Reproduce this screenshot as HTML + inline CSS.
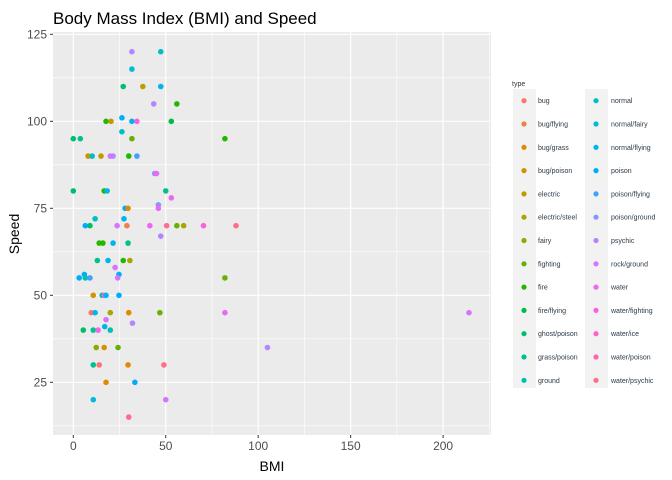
<!DOCTYPE html>
<html><head><meta charset="utf-8"><style>
html,body{margin:0;padding:0;background:#fff;}
svg{display:block;font-family:"Liberation Sans",Arial,sans-serif;}
</style></head><body>
<svg id="chart" width="672" height="480" xmlns="http://www.w3.org/2000/svg">
<text x="53" y="24" font-size="17" fill="#000">Body Mass Index (BMI) and Speed</text>
<rect x="53" y="32" width="438" height="403" fill="#EBEBEB"/>
<g id="grid"></g>
<g id="points"></g>
<g id="axes"></g>
<text x="272" y="471" font-size="14" text-anchor="middle" fill="#000">BMI</text>
<text x="0" y="0" font-size="14" text-anchor="middle" fill="#000" transform="translate(19,234) rotate(-90)">Speed</text>
<text x="512" y="86" font-size="7" fill="#333">type</text>
<g id="legend"></g>
</svg>
<script>
const types = ["bug","bug/flying","bug/grass","bug/poison","electric","electric/steel","fairy","fighting","fire","fire/flying","ghost/poison","grass/poison","ground","normal","normal/fairy","normal/flying","poison","poison/flying","poison/ground","psychic","rock/ground","water","water/fighting","water/ice","water/poison","water/psychic"];
const xTicks = [0,50,100,150,200];
const yTicks = [25,50,75,100,125];
const pointBmi = [31.7,47.3,31.7,27,37.6,47.3,43.5,56,26.3,17.7,20.4,31.7,34.4,53,26.3,0,3.8,31.7,82,8,10.2,15,20,21.5,30,34.4,44,45,0,16.7,18.3,50,53,28,29.6,46,46,11.8,6.5,9,23.7,27.4,29,41.4,50.5,56,59.7,70.4,88,47.3,14,16,21.5,29.6,13,18.8,27,30.6,22.6,6,24.7,3.2,6.5,9,24,82,10.8,15.6,16.7,17.7,24.7,9.7,11.8,20,30,46.8,82,214,17.7,32,5.4,10.8,13.4,20,17,12.4,16.7,24.2,105,10.8,14,29.6,49,17.7,33.3,10.8,50,30];
const pointSpeed = [120,120,115,110,110,110,105,105,101,100,100,100,100,100,97,95,95,95,95,90,90,90,90,90,90,90,85,85,80,80,80,80,78,75,75,76,75,72,70,70,70,72,70,70,70,70,70,70,70,67,65,65,65,65,60,60,60,60,58,56,56,55,55,55,55,55,50,50,50,50,50,45,45,45,45,45,45,45,43,42,40,40,40,40,41,35,35,35,35,30,30,30,30,25,25,20,20,15];
const pointType = ["psychic","normal","normal/fairy","ghost/poison","electric","normal/flying","psychic","fire","poison","fire","electric","normal/flying","water/fighting","fire/flying","normal","ghost/poison","grass/poison","fighting","fire","bug/poison","normal","electric","rock/ground","psychic","fire","poison/flying","poison/ground","water","ghost/poison","fire","normal/flying","grass/poison","water","poison","bug/grass","poison/ground","water","normal","poison","ghost/poison","rock/ground","normal/flying","bug/flying","water","water/psychic","fighting","electric/steel","water/fighting","water/psychic","psychic","fire","fire","normal/flying","grass/poison","grass/poison","normal/flying","fire","electric/steel","rock/ground","poison","poison","poison","ground","poison/flying","rock/ground","fighting","bug/poison","grass/poison","water","normal/flying","poison","bug","normal/flying","electric/steel","bug/grass","fighting","water","rock/ground","rock/ground","psychic","ghost/poison","grass/poison","water","ground","normal/flying","fairy","bug/poison","fighting","psychic","grass/poison","bug","bug/grass","water/psychic","bug/grass","poison","normal/fairy","rock/ground","water/psychic"];

const NS="http://www.w3.org/2000/svg";
const X0=53,X1=491,Y0=32,Y1=435;
function xs(v){return 73.3+v*1.849;}
function ys(v){return 382.3-(v-25)*3.48;}
function hcl(h,c,l){
  const hr=h*Math.PI/180,u=c*Math.cos(hr),v=c*Math.sin(hr);
  const un=0.19783,vn=0.46832;
  const Y=l>8?Math.pow((l+16)/116,3):l/903.3;
  const up=u/(13*l)+un,vp=v/(13*l)+vn;
  const X=Y*9*up/(4*vp),Z=Y*(12-3*up-20*vp)/(4*vp);
  let r=3.2406*X-1.5372*Y-0.4986*Z,g=-0.9689*X+1.8758*Y+0.0415*Z,b=0.0557*X-0.2040*Y+1.0570*Z;
  const f=t=>{t=t<=0.0031308?12.92*t:1.055*Math.pow(t,1/2.4)-0.055;return Math.round(Math.max(0,Math.min(1,t))*255);};
  return `rgb(${f(r)},${f(g)},${f(b)})`;
}
const colors={};
types.forEach((t,i)=>{colors[t]=hcl(15+360*i/types.length,100,65);});
function mk(tag,attrs,parent){const e=document.createElementNS(NS,tag);for(const k in attrs)e.setAttribute(k,attrs[k]);parent.appendChild(e);return e;}
const grid=document.getElementById('grid');
for(let v=25;v<=225;v+=50){const x=xs(v);if(x<X1){const l=mk('line',{x1:x,x2:x,y1:Y0,y2:Y1,stroke:'#fff','stroke-width':0.6},grid);

}}
for(let v=12.5;v<=125;v+=25){const y=ys(v);const l=mk('line',{x1:X0,x2:X1,y1:y,y2:y,stroke:'#fff','stroke-width':0.6},grid);

}
const axes=document.getElementById('axes');
xTicks.forEach(v=>{const x=xs(v);
const l=mk('line',{x1:x,x2:x,y1:Y0,y2:Y1,stroke:'#fff','stroke-width':1.2},grid);


const t=mk('line',{x1:x,x2:x,y1:Y1,y2:Y1+3,stroke:'#333','stroke-width':1},axes);


const tx=mk('text',{x:x,y:Y1+15,'font-size':12,'text-anchor':'middle',fill:'#4d4d4d'},axes);tx.textContent=v;

});
yTicks.forEach(v=>{const y=ys(v);
const l=mk('line',{x1:X0,x2:X1,y1:y,y2:y,stroke:'#fff','stroke-width':1.2},grid);


const t=mk('line',{x1:X0-3,x2:X0,y1:y,y2:y,stroke:'#333','stroke-width':1},axes);


const tx=mk('text',{x:X0-6,y:y+4,'font-size':12,'text-anchor':'end',fill:'#4d4d4d'},axes);tx.textContent=v;

});
const pts=document.getElementById('points');
pointBmi.forEach((b,i)=>{const c=mk('circle',{cx:xs(b),cy:ys(pointSpeed[i]),r:2.8,fill:colors[pointType[i]]},pts);

});
const leg=document.getElementById('legend');
[[513,524,538],[585,596,611]].forEach((col,ci)=>{
const bg=mk('rect',{x:col[0],y:89,width:23,height:299,fill:'#F2F2F2'},leg);


for(let r=0;r<13;r++){const t=types[ci*13+r];const y=100.7+r*23.3;
const d=mk('circle',{cx:col[1],cy:y,r:2.6,fill:colors[t]},leg);


const tx=mk('text',{x:col[2],y:y+2.5,'font-size':7,fill:'#2a3a4a'},leg);tx.textContent=t;

}
});
</script>
</body></html>
